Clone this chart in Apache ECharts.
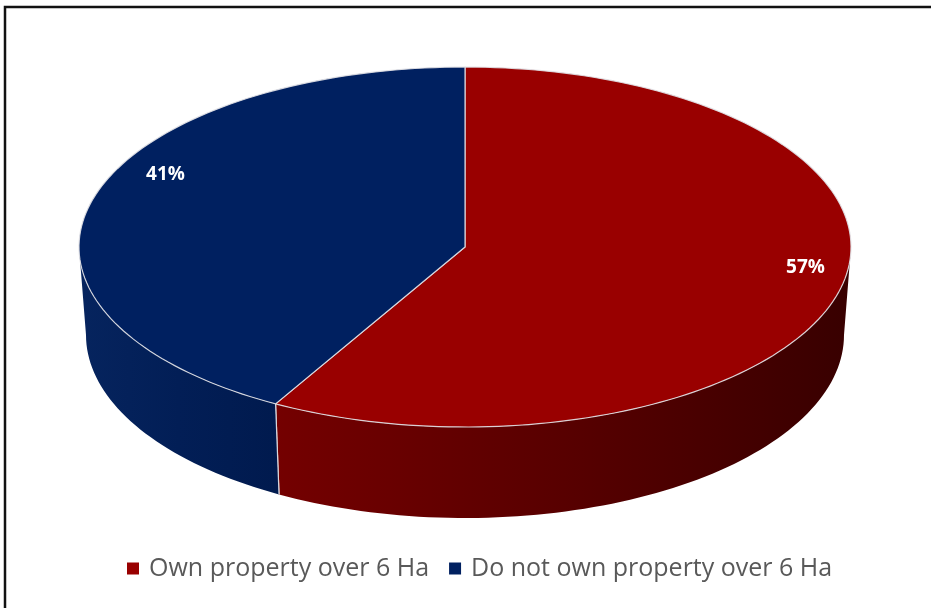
<!DOCTYPE html>
<html>
<head>
<meta charset="utf-8">
<script src="https://cdn.jsdelivr.net/npm/echarts@6/dist/echarts.min.js"></script>
<style>
  html, body { margin: 0; padding: 0; background: #fff; }
  #chart { width: 931px; height: 608px; }
</style>
</head>
<body>
<div id="chart"></div>
<script>
// Survey answers: share of respondents (percent)
const categories = ['Own property over 6 Ha', 'Do not own property over 6 Ha'];
const shares = [57, 41];

// Slice colours: top face, side wall gradient (left -> right)
const topColors = ['#990000', '#002060'];
const sideColors = [['#740000', '#580000', '#380000'], ['#06245e', '#021e56', '#001a4e']];
// Label anchor per slice, as a fraction of the top ellipse radii from its centre
const labelAnchor = [[0.882, 0.115], [-0.776, -0.40]];

// Tilted disc geometry
const geo = { cx: 465, cy: 247, rx: 386, ry: 180, bcx: 465, bcy: 335, brx: 379, bry: 183 };

const total = shares.reduce((a, b) => a + b, 0);
const startAngles = [];
shares.reduce((acc, v, i) => { startAngles[i] = acc; return acc + v / total * 360; }, 0);

function pt(cx, cy, rx, ry, deg) {
  const t = deg * Math.PI / 180;
  return [cx + rx * Math.sin(t), cy - ry * Math.cos(t)];
}
function arc(cx, cy, rx, ry, a0, a1) {
  const n = Math.max(2, Math.ceil(Math.abs(a1 - a0) / 1.5));
  const out = [];
  for (let k = 0; k <= n; k++) out.push(pt(cx, cy, rx, ry, a0 + (a1 - a0) * k / n));
  return out;
}

function makeRender(idx) {
  return function (params, api) {
    const v = api.value(0);
    const a0 = startAngles[idx];
    const a1 = a0 + v / total * 360;
    const children = [];
    const edge = 'rgba(225,225,230,0.9)';

    // visible side wall: the front half of the disc (90..270 degrees)
    const s0 = Math.max(a0, 90), s1 = Math.min(a1, 270);
    if (s1 > s0) {
      const topArc = arc(geo.cx, geo.cy, geo.rx, geo.ry, s0, s1);
      const botArc = arc(geo.bcx, geo.bcy, geo.brx, geo.bry, s0, s1).reverse();
      const c = sideColors[idx];
      children.push({
        type: 'polygon',
        shape: { points: topArc.concat(botArc) },
        style: {
          fill: { type: 'linear', x: 0, y: 0, x2: 1, y2: 0,
            colorStops: [{ offset: 0, color: c[0] }, { offset: 0.5, color: c[1] }, { offset: 1, color: c[2] }] }
        }
      });
      [a0, a1].forEach(function (a) {
        if (a > 90 && a < 270) {
          const p = pt(geo.cx, geo.cy, geo.rx, geo.ry, a);
          const q = pt(geo.bcx, geo.bcy, geo.brx, geo.bry, a);
          children.push({ type: 'line', shape: { x1: p[0], y1: p[1], x2: q[0], y2: q[1] },
            style: { stroke: edge, lineWidth: 1.2 } });
        }
      });
    }

    // top face
    const face = [[geo.cx, geo.cy]].concat(arc(geo.cx, geo.cy, geo.rx, geo.ry, a0, a1));
    children.push({
      type: 'polygon',
      shape: { points: face },
      style: { fill: topColors[idx], stroke: edge, lineWidth: 1.2 }
    });

    // percentage label
    const la = labelAnchor[idx];
    children.push({
      type: 'text',
      style: {
        x: geo.cx + la[0] * geo.rx, y: geo.cy + la[1] * geo.ry,
        text: v + '%', fill: '#fff',
        font: 'bold 19px "Open Sans", sans-serif',
        align: 'center', verticalAlign: 'middle'
      }
    });
    return { type: 'group', children: children };
  };
}

const chart = echarts.init(document.getElementById('chart'), null, { renderer: 'canvas' });
chart.setOption({
  animation: false,
  backgroundColor: '#fff',
  graphic: [{
    type: 'polyline',
    shape: { points: [[5, 608], [5, 7], [931, 7]] },
    style: { stroke: '#111', lineWidth: 2.5, fill: null }
  }],
  legend: {
    left: 122, top: 551,
    icon: 'rect', itemWidth: 12, itemHeight: 12, itemGap: 20,
    textStyle: { color: '#595959', fontSize: 25, fontFamily: '"Open Sans", sans-serif', padding: [0, 0, 0, 5] },
    data: categories
  },
  series: categories.map(function (name, i) {
    return {
      type: 'custom',
      name: name,
      coordinateSystem: 'none',
      color: topColors[i],
      itemStyle: { color: topColors[i] },
      renderItem: makeRender(i),
      data: [[shares[i]]]
    };
  })
});
</script>
</body>
</html>
